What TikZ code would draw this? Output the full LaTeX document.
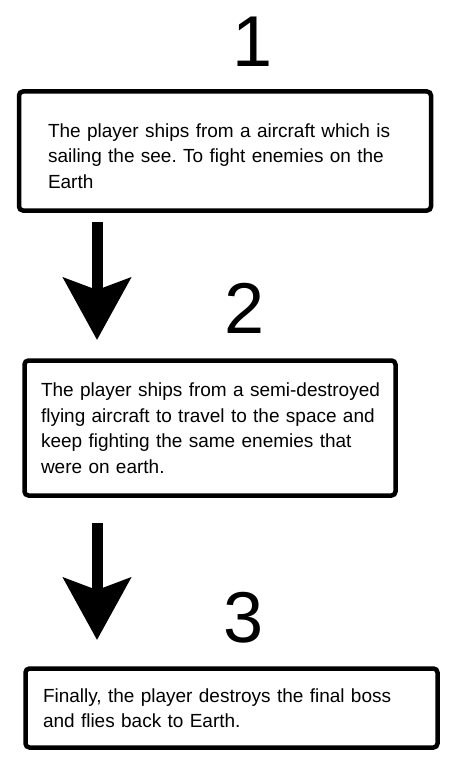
\documentclass[tikz,border=0pt]{standalone}
\usepackage{fontspec}
\setmainfont{Liberation Sans}
\usetikzlibrary{arrows.meta}
\frenchspacing

\begin{document}
\begin{tikzpicture}
  [x=1pt,y=-1pt,
   stagebox/.style={draw,line width=4.5pt,rounded corners=4pt,align=left,inner sep=0pt,
     font=\fontsize{19}{25.5}\selectfont},
   stagenum/.style={anchor=base,inner sep=0pt,font=\fontsize{72}{72}\selectfont},
   bigarrow/.style={line width=11pt,-{Stealth[length=62pt,width=67pt,inset=12pt]}}]
  \useasboundingbox (0,0) rectangle (454,781);

  \node[stagebox,minimum width=412pt,minimum height=119pt,text width=354pt] (b1) at (225,151)
    {\rule{0pt}{24pt}The player ships from a aircraft which is\\sailing the see. To fight enemies on the\\Earth};
  \node[stagebox,minimum width=371pt,minimum height=135pt,text width=338pt] (b2) at (210,428)
    {\mbox{The player ships from a semi-destroyed}\\flying aircraft to travel to the space and\\keep fighting the same enemies that\\were on earth.};
  \node[stagebox,minimum width=412pt,minimum height=79pt,text width=377pt] (b3) at (231.5,708)
    {Finally, the player destroys the final boss\\and flies back to Earth.};

  \foreach \n/\x/\y in {1/253/67,2/245/333,3/244/642}
    \node[stagenum] (n\n) at (\x,\y) {\n};

  \coordinate (s1) at (97,222);
  \coordinate (e1) at (97,340);
  \coordinate (s2) at (97,523);
  \coordinate (e2) at (97,640);
  \foreach \from/\to in {s1/e1,s2/e2}
    \draw[bigarrow] (\from) -- (\to);
\end{tikzpicture}
\end{document}
